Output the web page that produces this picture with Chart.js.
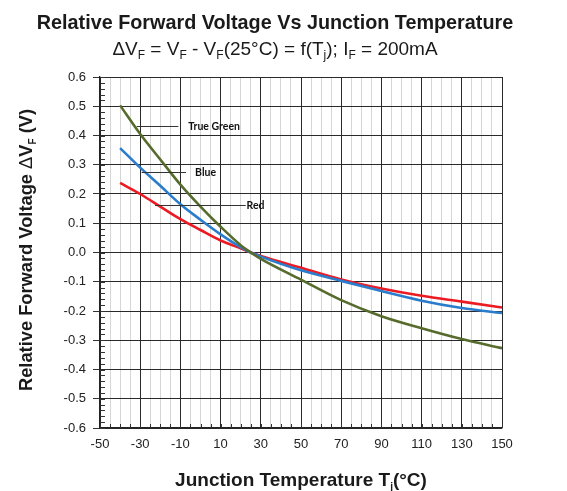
<!DOCTYPE html>
<html><head><meta charset="utf-8">
<script src="https://cdn.jsdelivr.net/npm/chart.js@4/dist/chart.umd.min.js"></script>
<style>html,body{margin:0;padding:0;background:#fff}#wrap{width:567px;height:491px;position:relative}</style>
</head><body><div id="wrap"><canvas id="c" width="567" height="491"></canvas></div>
<script>
// ---- data ----
const temperatures = [-40, -30, -20, -10, 0, 10, 20, 25, 30, 50, 70, 90, 110, 130, 150];
const trueGreen = [0.503, 0.405, 0.318, 0.232, 0.157, 0.088, 0.025, 0, -0.022, -0.093, -0.163, -0.218, -0.259, -0.296, -0.327];
const blue      = [0.357, 0.290, 0.228, 0.165, 0.112, 0.062, 0.018, 0, -0.014, -0.061, -0.097, -0.132, -0.165, -0.190, -0.207];
const red       = [0.238, 0.200, 0.157, 0.114, 0.077, 0.041, 0.014, 0, -0.012, -0.052, -0.092, -0.123, -0.148, -0.168, -0.188];
const seriesNames = ['True Green', 'Blue', 'Red'];
const xTickLabels = [-50, -30, -10, 10, 30, 50, 70, 90, 110, 130, 150];
const yTickLabels = [-0.6, -0.5, -0.4, -0.3, -0.2, -0.1, 0.0, 0.1, 0.2, 0.3, 0.4, 0.5, 0.6];
// annotation leaders (data units)
const leaderStartT = [-31.7, -29.3, -22.6];
const leaderEndT   = [-11.0, -7.2, 22.5];
const leaderValue  = [0.432, 0.274, 0.163];
const labelT       = [-6.1, -2.7, 22.9];

const colors = ['#566b2c', '#2a7ccc', '#ec1a22'];
const seriesValues = [trueGreen, blue, red];

const FONT = '"Liberation Sans", Arial, sans-serif';

function drawRich(ctx, segs, cx, baseline, align) {
  let total = 0;
  segs.forEach(s => { ctx.font = s.font; total += ctx.measureText(s.t).width; });
  let x = align === 'center' ? cx - total / 2 : cx;
  ctx.textAlign = 'left';
  ctx.textBaseline = 'alphabetic';
  segs.forEach(s => {
    ctx.font = s.font;
    ctx.fillText(s.t, x, baseline + (s.dy || 0));
    x += ctx.measureText(s.t).width;
  });
}

const decor = {
  id: 'decor',
  afterDraw(chart) {
    const ctx = chart.ctx;
    const xs = chart.scales.x, ys = chart.scales.y;
    const ca = chart.chartArea;
    ctx.save();
    // inner minor ticks
    ctx.strokeStyle = '#333';
    ctx.lineWidth = 1;
    ctx.beginPath();
    for (let v = -50; v <= 150; v += 5) {
      const px = Math.round(xs.getPixelForValue(v)) + 0.5;
      ctx.moveTo(px, ca.bottom); ctx.lineTo(px, ca.bottom - 4);
    }
    for (let k = -30; k <= 30; k++) {
      const py = Math.round(ys.getPixelForValue(k * 0.02)) + 0.5;
      ctx.moveTo(ca.left, py); ctx.lineTo(ca.left + 5, py);
    }
    ctx.stroke();
    // leaders + labels
    ctx.strokeStyle = '#333';
    ctx.lineWidth = 1;
    ctx.fillStyle = '#111';
    ctx.font = 'bold 10.5px Lato, "Open Sans", sans-serif';
    ctx.textBaseline = 'middle';
    ctx.textAlign = 'left';
    for (let i = 0; i < seriesNames.length; i++) {
      const py = Math.round(ys.getPixelForValue(leaderValue[i])) + 0.5;
      ctx.beginPath();
      ctx.moveTo(xs.getPixelForValue(leaderStartT[i]), py);
      ctx.lineTo(xs.getPixelForValue(leaderEndT[i]), py);
      ctx.stroke();
      ctx.fillText(seriesNames[i], xs.getPixelForValue(labelT[i]), py);
    }
    // titles
    ctx.fillStyle = '#1a1a1a';
    drawRich(ctx, [{t: 'Relative Forward Voltage Vs Junction Temperature', font: 'bold 19.8px ' + FONT}], 275, 29, 'center');
    const n = '19px ' + FONT, sb = '12px ' + FONT;
    drawRich(ctx, [
      {t: '\u0394V', font: n}, {t: 'F', font: sb, dy: 4},
      {t: ' = V', font: n}, {t: 'F', font: sb, dy: 4},
      {t: ' - V', font: n}, {t: 'F', font: sb, dy: 4},
      {t: '(25\u00B0C) = f(T', font: n}, {t: 'j', font: sb, dy: 4},
      {t: '); I', font: n}, {t: 'F', font: sb, dy: 4},
      {t: ' = 200mA', font: n}
    ], 275, 55, 'center');
    const b = 'bold 19px ' + FONT, bs = 'bold 10px ' + FONT;
    drawRich(ctx, [
      {t: 'Junction Temperature T', font: b}, {t: 'j', font: bs, dy: 4}, {t: '(\u00B0C)', font: b}
    ], 301, 486, 'center');
    ctx.save();
    ctx.translate(32, 250);
    ctx.rotate(-Math.PI / 2);
    const yb = 'bold 18.3px ' + FONT;
    drawRich(ctx, [
      {t: 'Relative Forward Voltage ', font: yb}, {t: '\u0394', font: '18.3px ' + FONT}, {t: 'V', font: yb},
      {t: 'F', font: bs, dy: 4}, {t: ' (V)', font: yb}
    ], 0, 0, 'center');
    ctx.restore();
    ctx.restore();
  }
};

new Chart(document.getElementById('c'), {
  type: 'line',
  data: {
    datasets: seriesNames.map((name, i) => ({
      label: name,
      data: temperatures.map((t, j) => ({x: t, y: seriesValues[i][j]})),
      borderColor: colors[i],
      borderWidth: 2.6,
      pointRadius: 0,
      fill: false,
      cubicInterpolationMode: 'monotone'
    }))
  },
  options: {
    responsive: false,
    animation: false,
    layout: {padding: {top: 77, right: 65, left: 0, bottom: 0}},
    plugins: {legend: {display: false}, tooltip: {enabled: false}},
    scales: {
      x: {
        type: 'linear', min: -50, max: 150,
        afterBuildTicks: s => { const t = []; for (let v = -50; v <= 150; v += 5) t.push({value: v}); s.ticks = t; },
        ticks: {
          autoSkip: false, maxRotation: 0, minRotation: 0, padding: 9,
          callback: v => xTickLabels.includes(v) ? String(v) : '',
          font: {family: FONT, size: 13}, color: '#222'
        },
        grid: {
          color: c => (c.tick && xTickLabels.includes(c.tick.value)) ? '#2a2a2a' : '#d6d6d6',
          lineWidth: 1, drawTicks: false
        },
        border: {color: '#222', width: 1.3},
        afterFit: s => { s.height = 63; }
      },
      y: {
        min: -0.6, max: 0.6,
        afterBuildTicks: s => { s.ticks = yTickLabels.map(v => ({value: v})); },
        ticks: {
          padding: 7,
          callback: v => Math.abs(v) < 1e-9 ? '0.0' : v.toFixed(1),
          font: {family: FONT, size: 13}, color: '#222'
        },
        grid: {color: '#2a2a2a', lineWidth: 1, tickLength: 7, tickColor: '#333'},
        border: {color: '#222', width: 1.3},
        afterFit: s => { s.width = 100; }
      }
    }
  },
  plugins: [decor]
});
</script>
</body></html>
